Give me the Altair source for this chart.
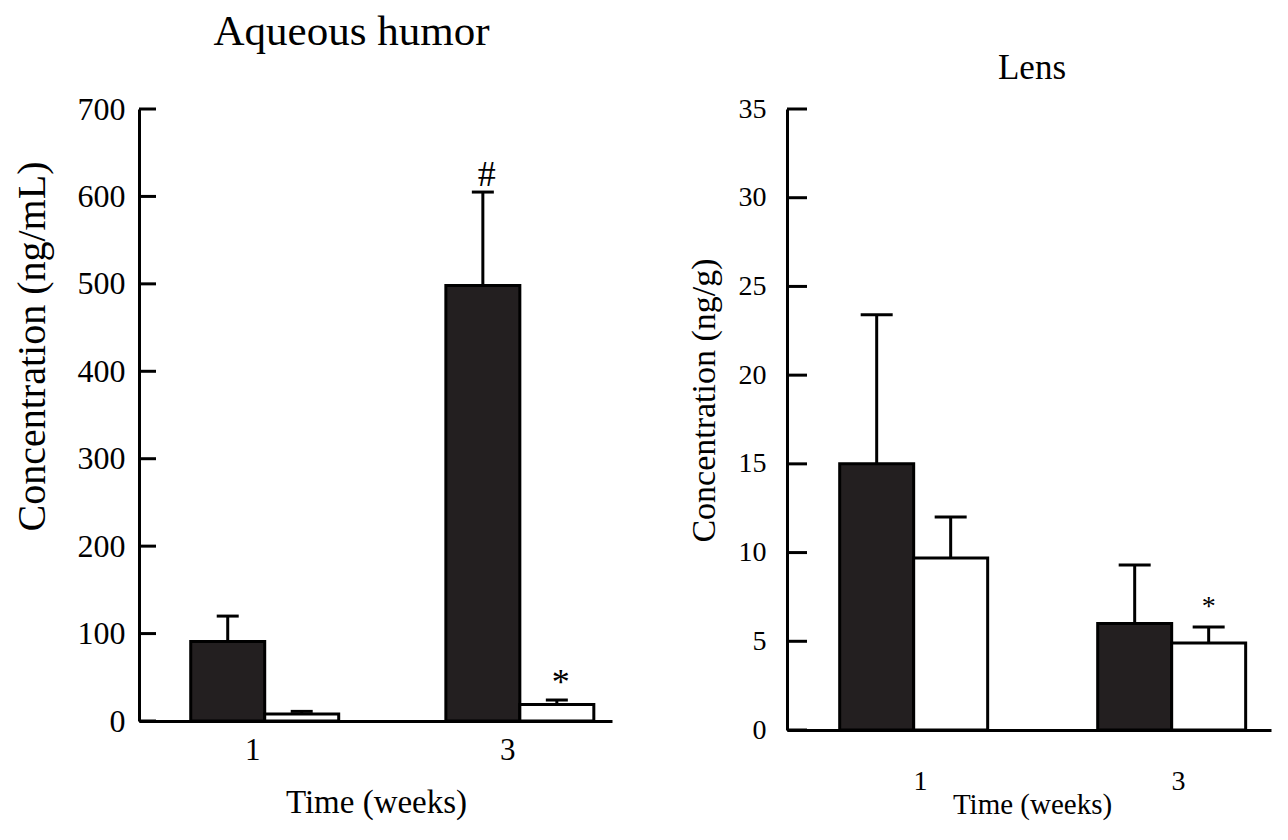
import altair as alt
import pandas as pd

# ---- data ----
weeks = ["1", "1", "3", "3"]
groups = ["filled", "open", "filled", "open"]

aq_mean = [91, 8, 498, 19]
aq_upper = [120, 11, 605, 24]
aq_marks = ["", "", "#", "*"]
aq_ticks = [0, 100, 200, 300, 400, 500, 600, 700]

lens_mean = [15.0, 9.7, 6.0, 4.9]
lens_upper = [23.4, 12.0, 9.3, 5.8]
lens_marks = ["", "", "", "*"]
lens_ticks = [0, 5, 10, 15, 20, 25, 30, 35]

FONT = "Liberation Serif"


def panel(mean, upper, marks, ticks, ymax, title, ytitle, w, h, cfg):
    df = pd.DataFrame({"week": weeks, "group": groups, "mean": mean,
                       "upper": upper, "mark": marks})
    tdf = pd.DataFrame({"v": ticks})

    xscale = alt.Scale(paddingInner=0.42, paddingOuter=cfg["po"], align=cfg["align"])
    xaxis = alt.Axis(
        ticks=False, domainWidth=3, domainColor="black",
        labelFont=FONT, labelFontSize=cfg["xlab"], labelColor="black", labelAngle=0,
        labelPadding=cfg["xlabpad"], labelOffset=cfg["xlaboff"],
        titleFont=FONT, titleFontSize=cfg["xtit"], titleFontWeight="normal", titleColor="black",
        titleX=cfg["xtitx"], titleY=cfg["xtity"], titleAlign="center", titleBaseline="middle",
    )
    x = alt.X("week:N", scale=xscale, axis=xaxis, title="Time (weeks)")
    x_plain = alt.X("week:N", scale=xscale, title="Time (weeks)")
    xoff = alt.XOffset("group:N", sort=["filled", "open"],
                       scale=alt.Scale(paddingInner=0, paddingOuter=0))
    yscale = alt.Scale(domain=[0, ymax], nice=False, zero=True)
    yaxis = alt.Axis(
        values=ticks, ticks=False, tickSize=0, domainWidth=3, domainColor="black",
        grid=False, labelFont=FONT, labelFontSize=cfg["ylab"], labelColor="black",
        labelPadding=cfg["ylabpad"], labelFlush=False, labelOverlap=False,
        titleFont=FONT, titleFontSize=cfg["ytit"], titleFontWeight="normal", titleColor="black",
        titleAngle=270, titleX=cfg["ytitx"], titleY=cfg["ytity"],
        titleAlign="center", titleBaseline="middle",
    )

    bars = alt.Chart(df).mark_bar(stroke="black", strokeWidth=3).encode(
        x=x, xOffset=xoff,
        y=alt.Y("mean:Q", scale=yscale, axis=yaxis, title=ytitle),
        fill=alt.Fill("group:N", scale=alt.Scale(domain=["filled", "open"],
                                                 range=["#231f20", "#ffffff"]), legend=None),
    )
    err = alt.Chart(df).mark_rule(strokeWidth=3, color="black").encode(
        x=x_plain, xOffset=xoff,
        y=alt.Y("mean:Q", scale=yscale, title=ytitle),
        y2="upper:Q",
    )
    caps = alt.Chart(df).mark_tick(orient="horizontal", size=cfg["capw"], thickness=3,
                                   color="black", opacity=1).encode(
        x=x_plain, xOffset=xoff,
        y=alt.Y("upper:Q", scale=yscale, title=ytitle),
    )
    txt = alt.Chart(df).transform_filter("datum.mark != ''").mark_text(
        baseline="alphabetic", font=FONT, fontSize=cfg["mk"], dy=cfg["mkdy"],
        dx=cfg["mkdx"], color="black"
    ).encode(
        x=x_plain, xOffset=xoff,
        y=alt.Y("upper:Q", scale=yscale, title=ytitle),
        text="mark:N",
    )
    tickrules = alt.Chart(tdf).mark_rule(strokeWidth=3, color="black").encode(
        y=alt.Y("v:Q", scale=yscale, title=ytitle),
        x=alt.value(0), x2=alt.value(cfg["tickw"]),
    )
    return alt.layer(bars, err, caps, txt, tickrules).properties(
        width=w, height=h,
        title=alt.TitleParams(title, font=FONT, fontSize=cfg["tit"], fontWeight="normal",
                              color="black", anchor="middle", offset=cfg["titoff"],
                              dx=cfg["titdx"]),
    )


left = panel(aq_mean, aq_upper, aq_marks, aq_ticks, 700, "Aqueous humor",
             "Concentration (ng/mL)", 473, 612,
             dict(po=0.137, align=0.74, xlab=31, xlabpad=14, xlaboff=-12, xtit=33,
                  xtitx=237, xtity=81, ylab=32, ylabpad=14, ytit=40, ytitx=-107, ytity=237,
                  capw=22, mk=36, mkdy=-6, mkdx=4, tickw=17, tit=43, titoff=39, titdx=-24))
right = panel(lens_mean, lens_upper, lens_marks, lens_ticks, 35, "Lens",
              "Concentration (ng/g)", 484, 621,
              dict(po=0.148, align=0.69, xlab=28, xlabpad=37, xlaboff=6, xtit=29,
                   xtitx=245, xtity=74, ylab=28, ylabpad=21, ytit=34, ytitx=-83, ytity=291,
                   capw=32, mk=28, mkdy=-12, mkdx=0, tickw=20, tit=35, titoff=9, titdx=3))

chart = alt.hconcat(left, right, spacing=175, bounds="flush").properties(
    padding={"left": 3, "top": 3, "right": 5, "bottom": 5},
    background="white",
).configure_view(strokeWidth=0, stroke="transparent")

chart.save("out.html", embed_options={"renderer": "svg", "actions": False})
